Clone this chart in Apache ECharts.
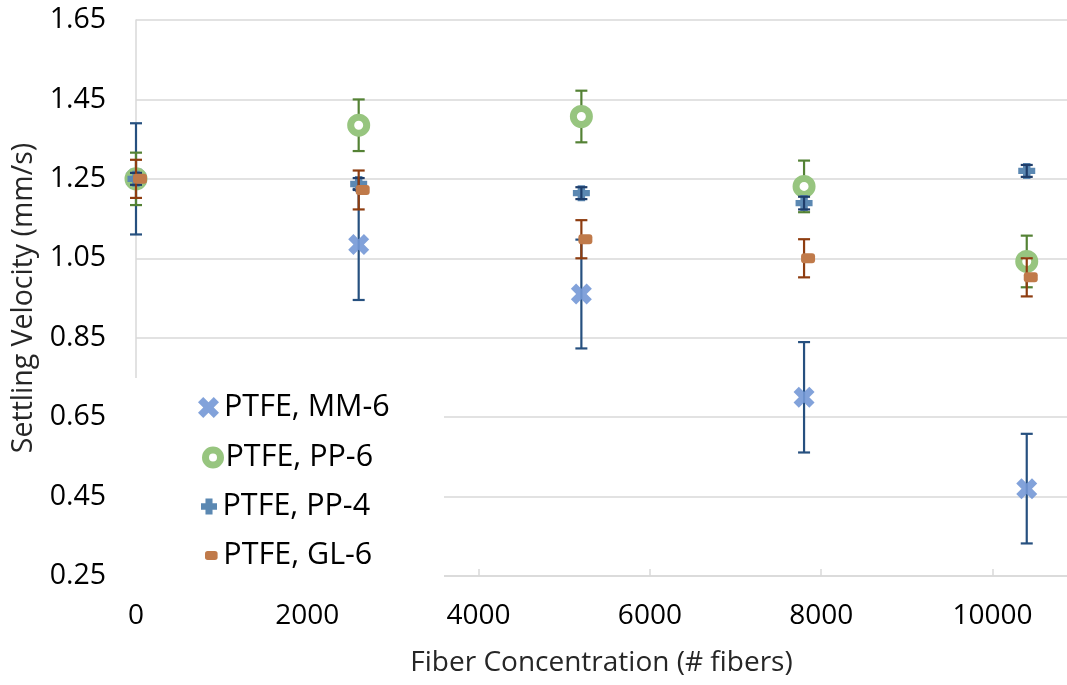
<!DOCTYPE html>
<html>
<head>
<meta charset="utf-8">
<script src="https://cdn.jsdelivr.net/npm/echarts@6/dist/echarts.min.js"></script>
<style>html,body{margin:0;padding:0;background:#fff}#c{width:1067px;height:685px}</style>
</head>
<body>
<div id="c"></div>
<script>
// ---- data ----
const xValues = [0, 2600, 5200, 7800, 10400];
const seriesNames = ['PTFE, MM-6', 'PTFE, PP-6', 'PTFE, PP-4', 'PTFE, GL-6'];
const mm6 = [1.25, 1.085, 0.96, 0.70, 0.47];
const mm6Err = [0.14, 0.14, 0.137, 0.139, 0.138];
const pp6 = [1.25, 1.385, 1.407, 1.231, 1.042];
const pp6Err = [0.066, 0.065, 0.065, 0.065, 0.065];
const pp4 = [1.25, 1.237, 1.214, 1.189, 1.27];
const pp4Err = [0.015, 0.015, 0.015, 0.016, 0.015];
const gl6 = [1.25, 1.222, 1.098, 1.05, 1.002];
const gl6Err = [0.048, 0.049, 0.048, 0.048, 0.048];
const yTicks = {min: 0.25, max: 1.65, step: 0.2};
const xTicks = {min: 0, max: 10870, step: 2000};

const FONT = "'Open Sans', sans-serif";
const X_PATH = 'path://M0,2.5L2.5,0L5,2.5L7.5,0L10,2.5L7.5,5L10,7.5L7.5,10L5,7.5L2.5,10L0,7.5L2.5,5Z';
const PLUS_PATH = 'path://M2.8,0H7.2V3H10V7H7.2V10H2.8V7H0V3H2.8Z';
const RR_PATH = 'path://M3,0H11A3,3 0 0 1 14,3V7A3,3 0 0 1 11,10H3A3,3 0 0 1 0,7V3A3,3 0 0 1 3,0Z';

const colors = {
  mm6: '#7498D6', mm6Err: '#26507F',
  pp6: '#97C57F', pp6Err: '#548235',
  pp4: '#5B88B2', pp4Err: '#1F3E6B',
  gl6: '#C07A4A', gl6Err: '#8E3D10'
};

function pts(vals) { return xValues.map((x, i) => [x, vals[i]]); }
function errPts(vals, errs) { return xValues.map((x, i) => [x, vals[i], errs[i]]); }

function errSeries(vals, errs, color, z) {
  return {
    type: 'custom', silent: true, z: z,
    encode: {x: 0, y: 1},
    data: errPts(vals, errs),
    renderItem: function (params, api) {
      const x = api.value(0), y = api.value(1), e = api.value(2);
      const hi = api.coord([x, y + e]);
      const lo = api.coord([x, y - e]);
      const hw = 6;
      const style = {stroke: color, lineWidth: 2.2};
      return {
        type: 'group',
        children: [
          {type: 'line', shape: {x1: hi[0], y1: hi[1], x2: lo[0], y2: lo[1]}, style: style},
          {type: 'line', shape: {x1: hi[0] - hw, y1: hi[1], x2: hi[0] + hw, y2: hi[1]}, style: style},
          {type: 'line', shape: {x1: lo[0] - hw, y1: lo[1], x2: lo[0] + hw, y2: lo[1]}, style: style}
        ]
      };
    }
  };
}

const legendText = {fontFamily: FONT, fontSize: 30.5, color: '#000', lineHeight: 24};
function mkLegend(name, left, top, w, h, icon, itemStyle) {
  return {
    data: [{name: name, icon: icon, itemStyle: itemStyle}],
    left: left, top: top, itemWidth: w, itemHeight: h, padding: 0,
    selectedMode: false, z: 20, textStyle: legendText
  };
}

const chart = echarts.init(document.getElementById('c'), null, {renderer: 'canvas'});
chart.setOption({
  animation: false,
  backgroundColor: '#fff',
  grid: {left: 136, right: 0, top: 20, bottom: 109, containLabel: false},
  xAxis: {
    type: 'value', min: xTicks.min, max: xTicks.max, interval: xTicks.step,
    name: 'Fiber Concentration (# fibers)', nameLocation: 'middle', nameGap: 73,
    nameTextStyle: {fontFamily: FONT, fontSize: 28, color: '#262626'},
    axisLine: {show: true, onZero: false, lineStyle: {color: '#D9D9D9', width: 1.5}},
    axisTick: {show: true, inside: true, length: 7, lineStyle: {color: '#D9D9D9', width: 1.5}},
    axisLabel: {fontFamily: FONT, fontSize: 28, color: '#000', margin: 26, showMaxLabel: false,
      formatter: v => String(Math.round(v))},
    splitLine: {show: false}
  },
  yAxis: {
    type: 'value', min: yTicks.min, max: yTicks.max, interval: yTicks.step,
    name: 'Settling Velocity (mm/s)', nameLocation: 'middle', nameGap: 92,
    nameTextStyle: {fontFamily: FONT, fontSize: 28.5, color: '#262626'},
    axisLine: {show: true, lineStyle: {color: '#D9D9D9', width: 1.5}},
    axisTick: {show: false},
    axisLabel: {fontFamily: FONT, fontSize: 28.5, color: '#000', margin: 30,
      formatter: v => v.toFixed(2)},
    splitLine: {show: true, lineStyle: {color: '#D9D9D9', width: 1.5}}
  },
  legend: [
    mkLegend(seriesNames[0], 198, 392, 21, 21, X_PATH, {color: colors.mm6}),
    mkLegend(seriesNames[1], 202, 442, 15, 15, 'circle', {color: '#fff', borderColor: colors.pp6, borderWidth: 7}),
    mkLegend(seriesNames[2], 201, 491, 17, 16, PLUS_PATH, {color: colors.pp4}),
    mkLegend(seriesNames[3], 205, 540, 14, 9, RR_PATH, {color: colors.gl6})
  ],
  graphic: [{
    type: 'rect', z: 10, silent: true,
    shape: {x: 133, y: 378, width: 311, height: 201},
    style: {fill: '#fff'}
  }],
  series: [
    errSeries(mm6, mm6Err, colors.mm6Err, 2),
    {name: seriesNames[0], type: 'scatter', z: 3, data: pts(mm6), symbol: X_PATH, symbolSize: 21,
      itemStyle: {color: colors.mm6, opacity: 0.9}},
    errSeries(pp6, pp6Err, colors.pp6Err, 4),
    {name: seriesNames[1], type: 'scatter', z: 5, data: pts(pp6), symbol: 'circle', symbolSize: 16,
      itemStyle: {color: '#fff', borderColor: colors.pp6, borderWidth: 7, opacity: 1}},
    {name: seriesNames[2], type: 'scatter', z: 6, data: pts(pp4), symbol: PLUS_PATH, symbolSize: [17, 16],
      itemStyle: {color: colors.pp4, opacity: 1}},
    errSeries(pp4, pp4Err, colors.pp4Err, 7),
    errSeries(gl6, gl6Err, colors.gl6Err, 8),
    {name: seriesNames[3], type: 'scatter', z: 9, data: pts(gl6), symbol: RR_PATH, symbolSize: [14, 10],
      symbolOffset: [4, 0], itemStyle: {color: colors.gl6, opacity: 1}}
  ]
});
</script>
</body>
</html>
